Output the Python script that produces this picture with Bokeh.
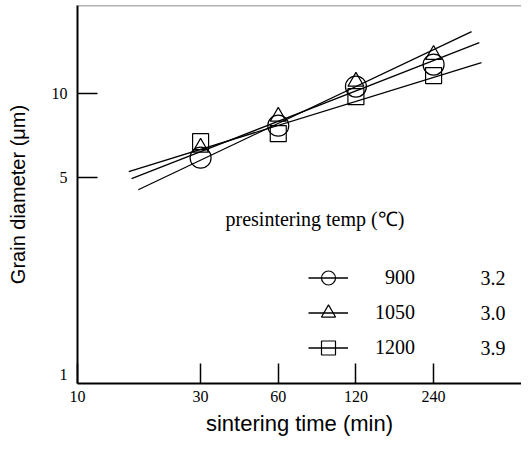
from bokeh.plotting import figure
from bokeh.models import (FixedTicker, NumeralTickFormatter, Legend, LegendItem,
                          Label, Span, Range1d)
from bokeh.embed import file_html
from bokeh.resources import INLINE

# ---- data ----
times = [30, 60, 120, 240]                 # sintering time (min)
temps = ["900", "1050", "1200"]            # presintering temperature (C)
exponents = ["3.2", "3.0", "3.9"]          # grain growth exponent n
d900 = [5.90, 7.67, 10.56, 12.64]          # grain diameter (um)
d1050 = [6.41, 8.26, 11.0, 13.7]
d1200 = [6.73, 7.19, 9.72, 11.55]
fit900_t = [16.2, 361.0]
fit900_d = [4.97, 15.13]
fit1050_t = [17.2, 337.0]
fit1050_d = [4.54, 16.55]
fit1200_t = [15.8, 368.0]
fit1200_d = [5.27, 12.85]
x_ticks = [10, 30, 60, 120, 240]
y_ticks = [1, 5, 10]

SERIF = "Liberation Serif"
SANS = "Liberation Sans"

p = figure(width=521, height=441, x_axis_type="log", y_axis_type="log",
           x_range=Range1d(10, 526), y_range=Range1d(0.93, 20.5),
           output_backend="svg", toolbar_location=None,
           min_border_left=77, min_border_right=0, min_border_top=5,
           min_border_bottom=58)
p.outline_line_color = None
p.grid.visible = False
p.background_fill_color = "white"
p.border_fill_color = "white"

for ax in (p.xaxis[0], p.yaxis[0]):
    ax.axis_line_width = 2
    ax.axis_line_color = "black"
    ax.major_tick_in = 20
    ax.major_tick_out = 0
    ax.major_tick_line_width = 1.5
    ax.major_tick_line_color = "black"
    ax.minor_tick_line_color = None
    ax.major_label_text_font = SERIF
    ax.major_label_text_font_size = "16px"
    ax.major_label_text_color = "black"
    ax.axis_label_text_font = SANS
    ax.axis_label_text_font_style = "normal"
    ax.axis_label_text_color = "black"
    ax.formatter = NumeralTickFormatter(format="0")

p.xaxis.ticker = FixedTicker(ticks=x_ticks, minor_ticks=[])
# y: labels at 1, 5, 10 but tick marks only at 5 and 10 (as in the original)
p.yaxis.ticker = FixedTicker(ticks=y_ticks, minor_ticks=y_ticks[1:])
p.yaxis.major_tick_line_color = None
p.yaxis.minor_tick_line_color = "black"
p.yaxis.minor_tick_in = 20
p.yaxis.minor_tick_out = 0
p.yaxis.minor_tick_line_width = 1.5

p.xaxis.axis_label = "sintering time (min)"
p.yaxis.axis_label = "Grain diameter (\u03bcm)"
p.xaxis.axis_label_text_font_size = "22px"
p.yaxis.axis_label_text_font_size = "20px"
p.xaxis.major_label_standoff = 7
p.xaxis.axis_label_standoff = 6
p.yaxis.major_label_standoff = 10
p.yaxis.axis_label_standoff = 20

p.add_layout(Span(location=20.5, dimension="width", line_color="#666666",
                  line_width=1.5))

series = [
    (d900, fit900_t, fit900_d, "circle", 21),
    (d1050, fit1050_t, fit1050_d, "triangle", 16),
    (d1200, fit1200_t, fit1200_d, "square", 16),
]
items = []
for (d, ft, fd, mk, sz), temp in zip(series, temps):
    lr = p.line(ft, fd, line_color="black", line_width=1.3)
    sr = p.scatter(times, d, marker=mk, size=sz, fill_color=None,
                   line_color="black", line_width=1.2)
    items.append(LegendItem(label="\u2007" * (4 - len(temp)) + temp,
                            renderers=[lr, sr]))

legend = Legend(items=items, location=(231, 18), padding=0, margin=0,
                border_line_color=None, background_fill_alpha=0,
                glyph_width=40, glyph_height=35, label_height=20,
                label_standoff=27, spacing=0,
                label_text_font=SERIF, label_text_font_size="20px",
                label_text_color="black")
p.add_layout(legend)

p.add_layout(Label(x=148, y=165, x_units="screen", y_units="screen",
                   text="presintering  temp (\u2103)", text_font=SERIF,
                   text_font_size="20px", text_baseline="middle",
                   text_color="black"))
for i, e in enumerate(exponents):
    p.add_layout(Label(x=403, y=106 - 35 * i, x_units="screen", y_units="screen",
                       text=e, text_font=SERIF, text_font_size="20px",
                       text_baseline="middle", text_color="black"))

open("out.html", "w").write(file_html(p, INLINE))
